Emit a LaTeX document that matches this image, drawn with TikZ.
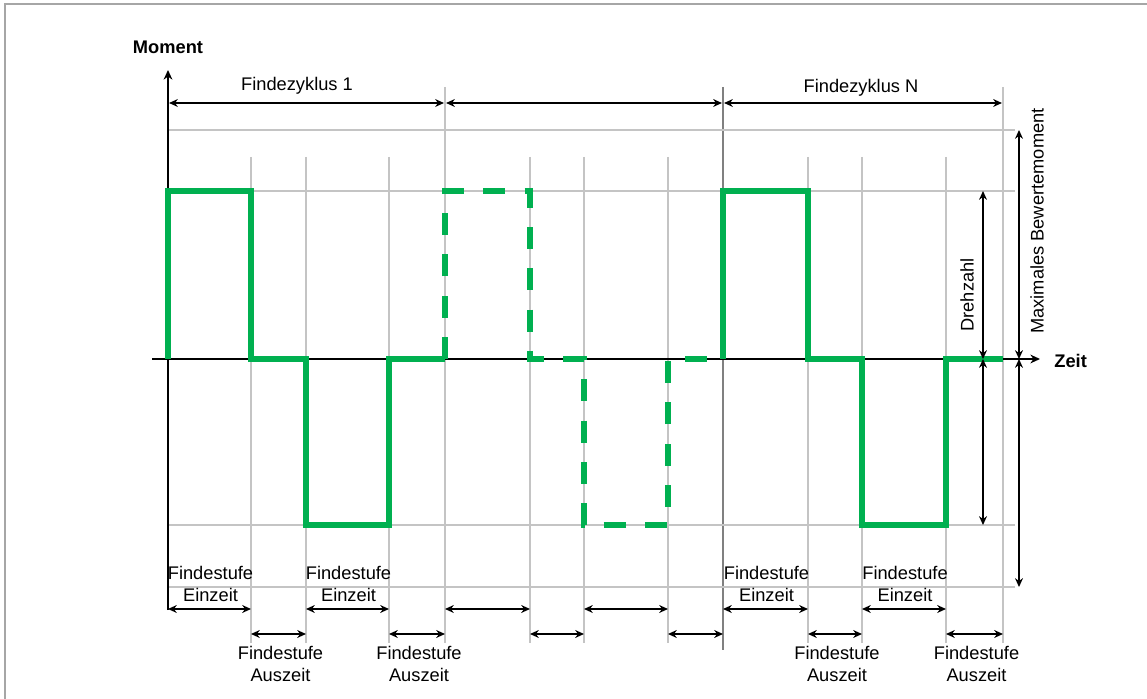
\documentclass[tikz,border=0pt]{standalone}
\usepackage{fontspec}
\setmainfont{Liberation Sans}
\usetikzlibrary{arrows.meta,calc}

\definecolor{signalgreen}{HTML}{00B050}
\definecolor{gridgray}{HTML}{C4C4C4}

\begin{document}
\begin{tikzpicture}[x=0.02cm,y=-0.02cm,
    every node/.style={font=\fontsize{10.4}{12.5}\selectfont,align=center,inner sep=0pt},
    gridline/.style={draw=gridgray,line width=0.6pt},
    signal/.style={draw=signalgreen,line width=3.2pt},
    dimarrow/.style={line width=0.8pt,{Stealth[length=5pt,width=4.5pt]}-{Stealth[length=5pt,width=4.5pt]}},
    axis/.style={line width=0.8pt,-{Stealth[length=5.5pt,width=5pt]}}]
\useasboundingbox (0,0) rectangle (1147,699);
\draw[gray!70,line width=0.6pt] (5,699) -- (5,4) -- (1147,4);

% time points
\foreach \x [count=\i from 0] in {168,251,306,389,445,530,584,668,723,808,862,946,1003} {
    \coordinate (cyc\i) at (\x,87);
    \coordinate (dim\i) at (\x,103);
    \coordinate (top\i) at (\x,157);
    \coordinate (hi\i) at (\x,191);
    \coordinate (z\i) at (\x,359);
    \coordinate (lo\i) at (\x,525);
    \coordinate (ein\i) at (\x,609);
    \coordinate (aus\i) at (\x,634);
    \coordinate (bot\i) at (\x,643);
}

% grid
\foreach \i in {1,2,3,5,6,7,9,10,11}
    \draw[gridline] (top\i) -- (bot\i);
\foreach \i in {4,12}
    \draw[gridline] (cyc\i) -- (bot\i);
\draw[gray,line width=0.7pt] (cyc8) -- (723,650);
\foreach \y in {130,191,525,587}
    \draw[gridline] (168,\y) -- (1015,\y);

% axes
\coordinate (ybot) at (168,610);
\coordinate (ytop) at (168,70);
\coordinate (xleft) at (152,359);
\coordinate (xright) at (1040,359);
\draw[axis] (ybot) -- (ytop);
\draw[axis] (xleft) -- (xright);
\node[font=\fontsize{10.4}{12.5}\selectfont\bfseries] (moment) at (168,47) {Moment};
\node[font=\fontsize{10.4}{12.5}\selectfont\bfseries,anchor=west] (zeit) at (1054,361) {Zeit};

% signal
\draw[signal] (z0) -- (hi0) -- (hi1) -- (z1) -- (z2) -- (lo2) -- (lo3) -- (z3) -- (z4);
\draw[signal,dash pattern=on 12.5pt off 11pt] (z4) -- (hi4) -- (hi5) -- (z5) -- (z6) -- (lo6) -- (lo7) -- (z7) -- (z8);
\draw[signal] (z8) -- (hi8) -- (hi9) -- (z9) -- (z10) -- (lo10) -- (lo11) -- (z11) -- (z12);

% cycles
\begin{scope}[shorten <=0.6pt,shorten >=0.6pt]
    \draw[dimarrow] (dim0) -- (dim4);
    \draw[dimarrow] (dim4) -- (dim8);
    \draw[dimarrow] (dim8) -- (dim12);
\end{scope}
\node (zyk1) at (297,86) {Findezyklus 1};
\node (zykN) at (861,88) {Findezyklus N};

% levels
\coordinate (drehhi) at (983,191);
\coordinate (drehz) at (983,359);
\coordinate (drehlo) at (983,525);
\coordinate (maxhi) at (1019,130);
\coordinate (maxz) at (1019,359);
\coordinate (maxlo) at (1019,587);
\draw[dimarrow] (drehhi) -- (drehz);
\draw[dimarrow] (drehz) -- (drehlo);
\draw[dimarrow] (maxhi) -- (maxz);
\draw[dimarrow] (maxz) -- (maxlo);
\node[rotate=90] (dreh) at (967,295) {Drehzahl};
\node[rotate=90] (maxmom) at (1037,221) {Maximales Bewertemoment};

% steps
\foreach \a/\b in {0/1,2/3,4/5,6/7,8/9,10/11}
    \draw[dimarrow] (ein\a) -- (ein\b);
\foreach \a/\b in {1/2,3/4,5/6,7/8,9/10,11/12}
    \draw[dimarrow] (aus\a) -- (aus\b);
\foreach \a/\b [count=\k] in {0/1,2/3,8/9,10/11}
    \node (einlbl\k) at ($(ein\a)!.5!(ein\b)+(1,-25)$) {Findestufe\\Einzeit};
\foreach \a/\b [count=\k] in {1/2,3/4,9/10,11/12}
    \node (auslbl\k) at ($(aus\a)!.5!(aus\b)+(2,30)$) {Findestufe\\Auszeit};
\end{tikzpicture}
\end{document}
